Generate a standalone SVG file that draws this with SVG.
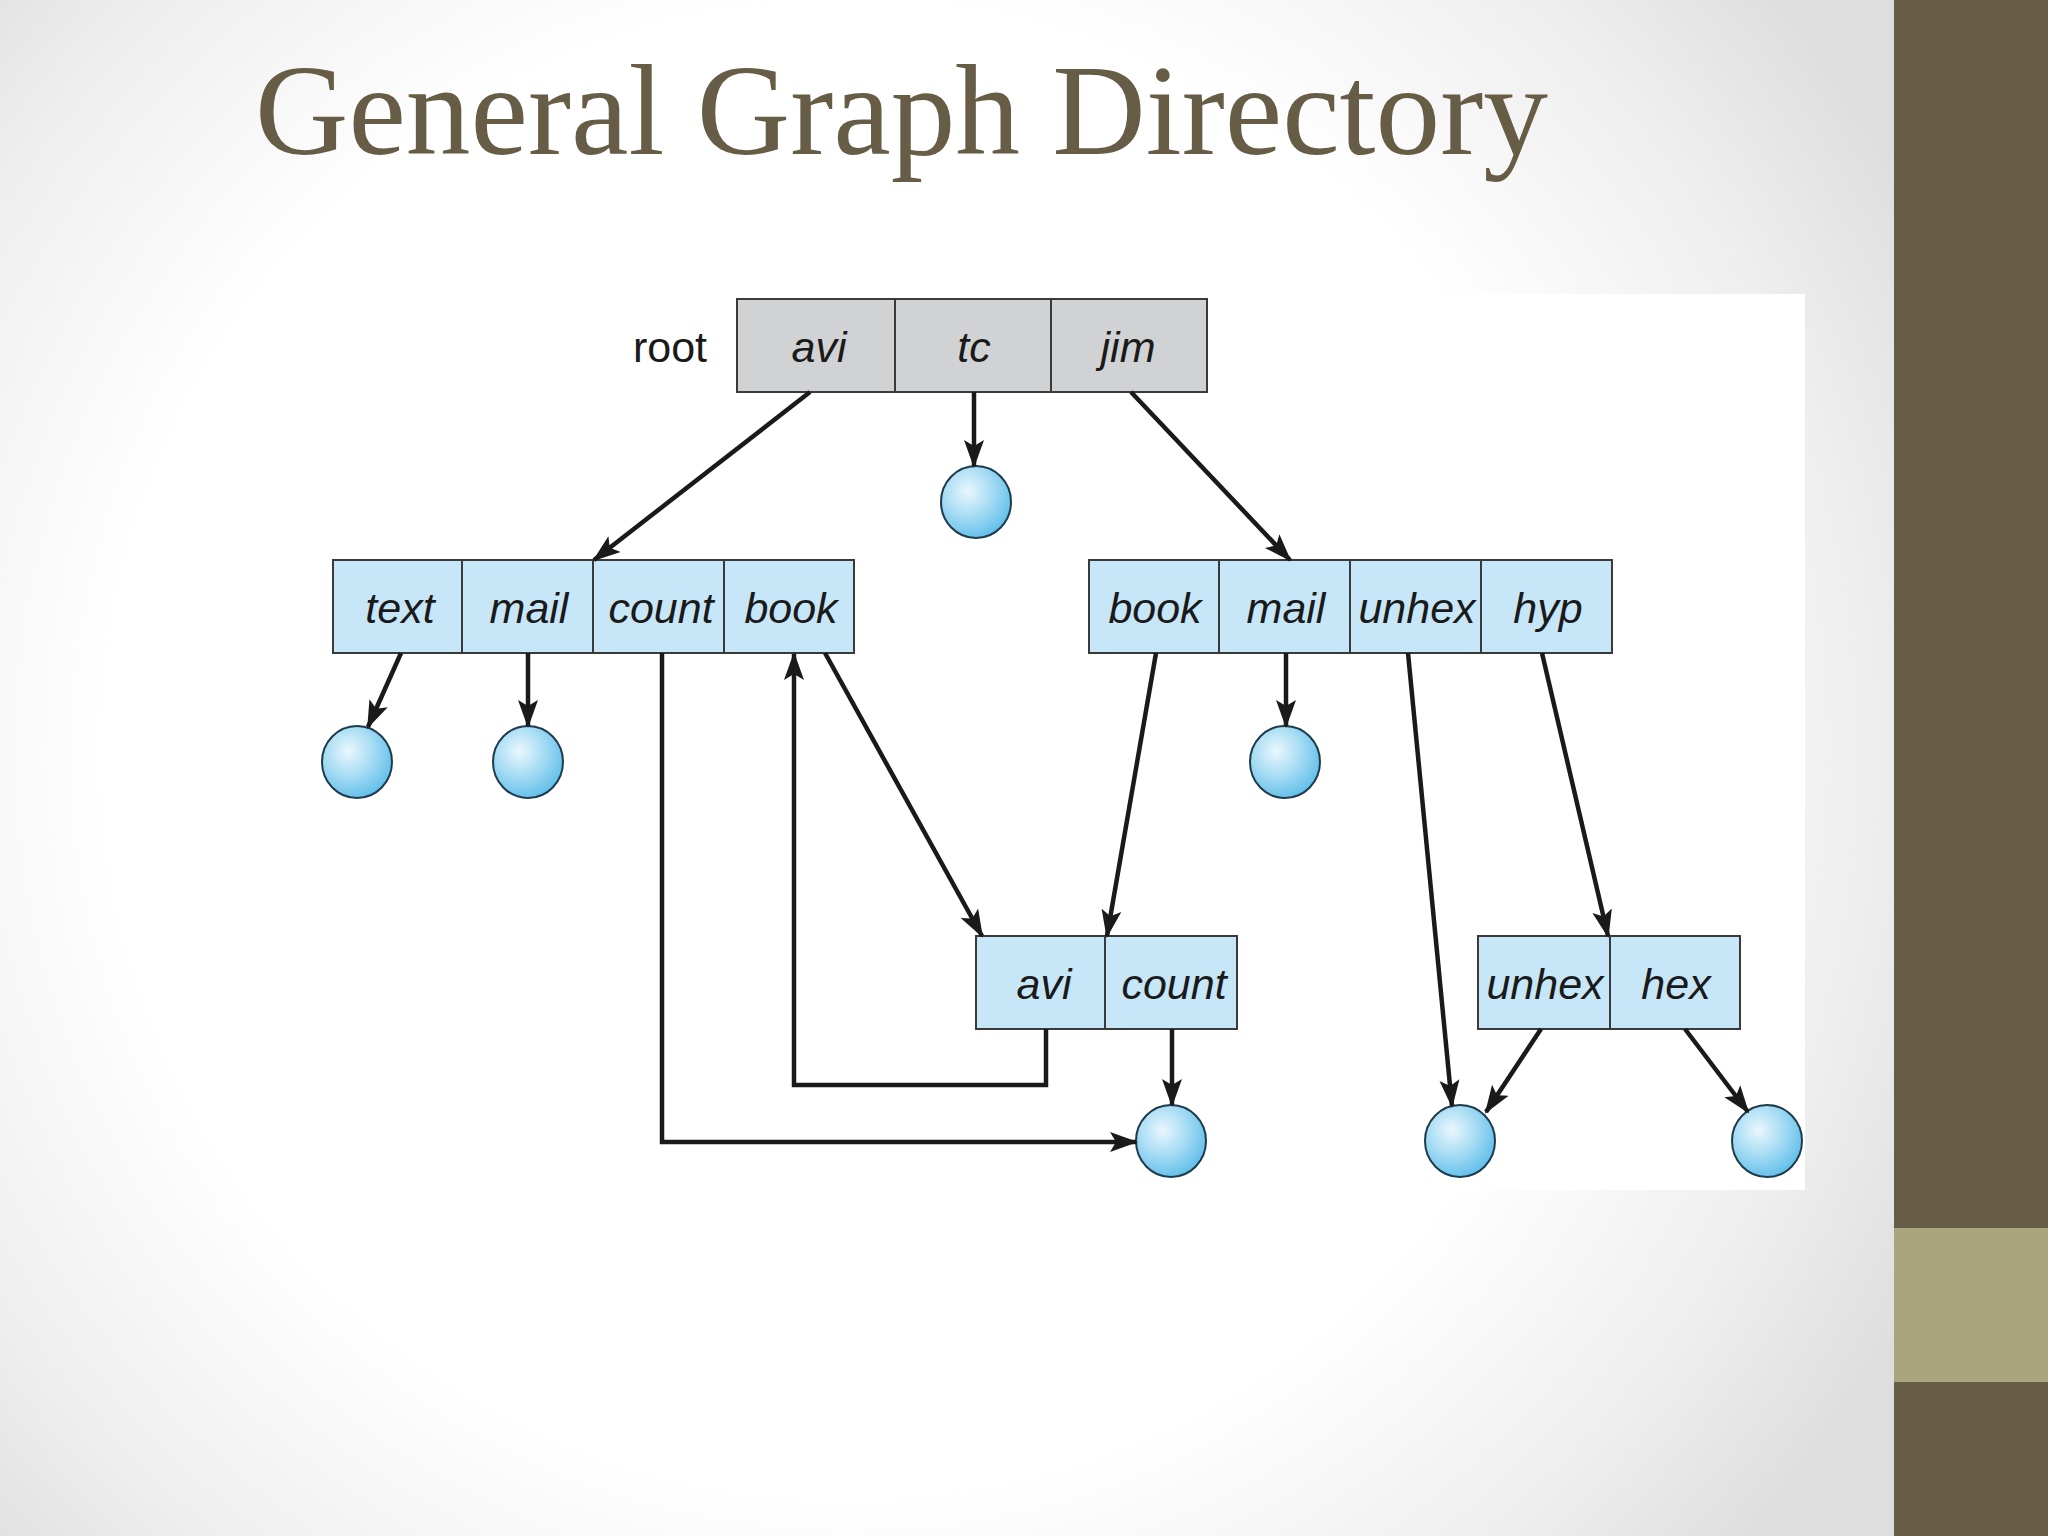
<svg xmlns="http://www.w3.org/2000/svg" width="2048" height="1536" viewBox="0 0 2048 1536">
<defs>
<radialGradient id="bg" cx="850" cy="750" r="1200" gradientUnits="userSpaceOnUse">
<stop offset="0" stop-color="#ffffff"/>
<stop offset="0.62" stop-color="#ffffff"/>
<stop offset="0.85" stop-color="#eeeeee"/>
<stop offset="1" stop-color="#dedede"/>
</radialGradient>
<radialGradient id="ball" cx="0.38" cy="0.35" r="0.7">
<stop offset="0" stop-color="#eaf7fd"/>
<stop offset="0.5" stop-color="#a6dcf4"/>
<stop offset="1" stop-color="#5ebde9"/>
</radialGradient>
<marker id="ah" markerUnits="userSpaceOnUse" markerWidth="28" markerHeight="22" viewBox="0 0 28 22" refX="26" refY="11" orient="auto">
<path d="M0,1 L28,11 L0,21 L6,11 Z" fill="#1a1a1a"/>
</marker>
<style>
.cellG{fill:#d1d2d4;stroke:#3a3a3a;stroke-width:2}
.cellB{fill:#c7e7f8;stroke:#3a3a3a;stroke-width:2}
.lbl{font-family:"Liberation Sans",Arial,sans-serif;font-style:italic;font-size:43px;fill:#1a1a1a;text-anchor:middle}
.root{font-family:"Liberation Sans",Arial,sans-serif;font-size:43px;fill:#1a1a1a;text-anchor:middle}
.ball{fill:url(#ball);stroke:#1e3b4c;stroke-width:2}
.edge{fill:none;stroke:#1a1a1a;stroke-width:4.5;marker-end:url(#ah)}
</style>
</defs>
<rect x="0" y="0" width="2048" height="1536" fill="url(#bg)"/>
<rect x="1000" y="294" width="805" height="896" fill="#ffffff"/>
<rect x="1894" y="0" width="154" height="1536" fill="#675d46"/>
<rect x="1894" y="1228" width="154" height="154" fill="#a9a57e"/>
<text x="255" y="154" font-family="'Liberation Serif','DejaVu Serif',serif" font-size="130" fill="#675d46" textLength="1293" lengthAdjust="spacingAndGlyphs">General Graph Directory</text>

<g id="root">
<text class="root" x="670" y="362">root</text>
<rect class="cellG" x="737" y="299" width="158" height="93"/>
<rect class="cellG" x="895" y="299" width="156" height="93"/>
<rect class="cellG" x="1051" y="299" width="156" height="93"/>
<text class="lbl" x="819" y="362">avi</text>
<text class="lbl" x="974" y="362">tc</text>
<text class="lbl" x="1128" y="362">jim</text>
</g>

<g id="avi-dir">
<rect class="cellB" x="333" y="560" width="129" height="93"/>
<rect class="cellB" x="462" y="560" width="131" height="93"/>
<rect class="cellB" x="593" y="560" width="131" height="93"/>
<rect class="cellB" x="724" y="560" width="130" height="93"/>
<text class="lbl" x="400" y="623">text</text>
<text class="lbl" x="529" y="623">mail</text>
<text class="lbl" x="661" y="623">count</text>
<text class="lbl" x="791" y="623">book</text>
</g>

<g id="jim-dir">
<rect class="cellB" x="1089" y="560" width="130" height="93"/>
<rect class="cellB" x="1219" y="560" width="131" height="93"/>
<rect class="cellB" x="1350" y="560" width="131" height="93"/>
<rect class="cellB" x="1481" y="560" width="131" height="93"/>
<text class="lbl" x="1155" y="623">book</text>
<text class="lbl" x="1286" y="623">mail</text>
<text class="lbl" x="1417" y="623">unhex</text>
<text class="lbl" x="1548" y="623">hyp</text>
</g>

<g id="book-dir">
<rect class="cellB" x="976" y="936" width="129" height="93"/>
<rect class="cellB" x="1105" y="936" width="132" height="93"/>
<text class="lbl" x="1044" y="999">avi</text>
<text class="lbl" x="1174" y="999">count</text>
</g>

<g id="hyp-dir">
<rect class="cellB" x="1478" y="936" width="132" height="93"/>
<rect class="cellB" x="1610" y="936" width="130" height="93"/>
<text class="lbl" x="1545" y="999">unhex</text>
<text class="lbl" x="1676" y="999">hex</text>
</g>

<g id="files">
<ellipse id="f-tc" class="ball" cx="976" cy="502" rx="35" ry="36"/>
<ellipse id="f-text" class="ball" cx="357" cy="762" rx="35" ry="36"/>
<ellipse id="f-mail" class="ball" cx="528" cy="762" rx="35" ry="36"/>
<ellipse id="f-jmail" class="ball" cx="1285" cy="762" rx="35" ry="36"/>
<ellipse id="f-count" class="ball" cx="1171" cy="1141" rx="35" ry="36"/>
<ellipse id="f-unhex" class="ball" cx="1460" cy="1141" rx="35" ry="36"/>
<ellipse id="f-hex" class="ball" cx="1767" cy="1141" rx="35" ry="36"/>
</g>

<g id="connectors">
<line class="edge" x1="810" y1="392" x2="594" y2="560"/>
<line class="edge" x1="974" y1="392" x2="974" y2="466"/>
<line class="edge" x1="1131" y1="392" x2="1290" y2="560"/>
<line class="edge" x1="401" y1="653" x2="368" y2="727"/>
<line class="edge" x1="528" y1="653" x2="528" y2="726"/>
<polyline class="edge" points="662,653 662,1142 1136,1142"/>
<line class="edge" x1="825" y1="653" x2="982" y2="936"/>
<polyline class="edge" points="1046,1029 1046,1085 794,1085 794,654"/>
<line class="edge" x1="1156" y1="653" x2="1107" y2="936"/>
<line class="edge" x1="1286" y1="653" x2="1286" y2="726"/>
<line class="edge" x1="1408" y1="653" x2="1452" y2="1106"/>
<line class="edge" x1="1542" y1="653" x2="1608" y2="936"/>
<line class="edge" x1="1541" y1="1029" x2="1486" y2="1112"/>
<line class="edge" x1="1685" y1="1029" x2="1748" y2="1112"/>
<line class="edge" x1="1172" y1="1029" x2="1172" y2="1105"/>
</g>
</svg>
